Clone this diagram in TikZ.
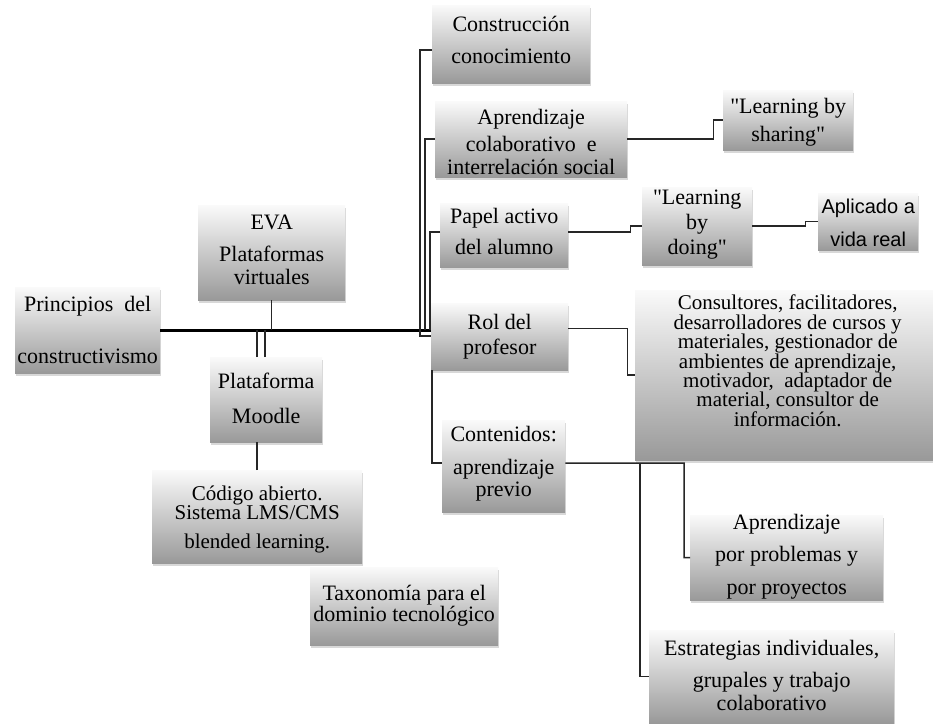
\documentclass[tikz,border=0pt]{standalone}
\usepackage{fontspec}
\setmainfont{Liberation Serif}
\newfontfamily\sansf{Liberation Sans}
\font\qfont="Liberation Serif" at 22pt
\newcommand\dq{{\qfont"}}
\usetikzlibrary{shadows}
\newcommand\fs[1]{\fontsize{22}{#1}\selectfont\lineskiplimit=-50pt\relax}
\newcommand\fss[2]{\fontsize{#1}{#2}\selectfont\lineskiplimit=-50pt\relax}
\begin{document}
\begin{tikzpicture}[x=1pt,y=-1pt,
  box/.style={anchor=north west, inner sep=0pt, align=center,
    top color=black!2, bottom color=black!40,
    drop shadow={shadow xshift=1pt, shadow yshift=-2.5pt, opacity=0.3}},
  bx/.style n args={4}{box, minimum width=#1, minimum height=#2, text height=#3, text depth=#4},
  ln/.style={line width=1.5pt, black!85},
  mainln/.style={line width=2.6pt, black}]
\fill[white] (0,0) rectangle (933,723);
\useasboundingbox (0,0) rectangle (933,723);

\node[bx={145pt}{86pt}{76pt}{10pt}, font=\fs{52}] (prin) at (15,287) {Principios\ \ del\\constructivismo};
\node[bx={147pt}{95pt}{79pt}{16pt}, font=\fs{23}] (eva) at (198,205) {EVA\\[9pt]Plataformas\\virtuales};
\node[bx={112pt}{85pt}{66pt}{19pt}, font=\fs{35}] (moodle) at (210,357) {Plataforma\\Moodle};
\node[bx={210pt}{93pt}{78pt}{15pt}, font=\fss{21}{19.5}] (codigo) at (152,470) {Código abierto.\\Sistema LMS/CMS\\[9pt]blended learning.};
\node[bx={188pt}{78pt}{54pt}{24pt}, font=\fss{22}{20.5}] (taxo) at (310,567) {Taxonomía para el\\dominio tecnológico};

\node[bx={158pt}{78pt}{58pt}{20pt}, font=\fs{32}] (cons) at (432,5) {Construcción\\conocimiento};
\node[bx={192pt}{76pt}{73pt}{3pt}, font=\fs{23}] (colab) at (435,101) {Aprendizaje\\[4pt]colaborativo\ \ e\\interrelación social};
\node[bx={130pt}{60pt}{51pt}{9pt}, font=\fs{28}] (share) at (723,90) {\dq Learning by\\sharing\dq};
\node[bx={128pt}{64pt}{51pt}{13pt}, font=\fs{31}] (papel) at (440,203) {Papel activo\\del alumno};
\node[bx={110pt}{78pt}{67pt}{11pt}, font=\fs{25}] (doing) at (642,187) {\dq Learning\\by\\doing\dq};
\node[bx={100pt}{57pt}{53pt}{4pt}, font=\sansf\fontsize{20}{33}\selectfont] (aplic) at (818,193) {Aplicado a\\vida real};
\node[bx={137pt}{67pt}{51pt}{16pt}, font=\fs{25}] (rol) at (431,303) {Rol del\\profesor};
\node[bx={305pt}{170pt}{136pt}{34pt}, font=\fss{21}{19.4}] (consu) at (635,290) {Consultores, facilitadores,\\desarrolladores de cursos y\\materiales, gestionador de\\ambientes de aprendizaje,\\motivador,\ \ adaptador de\\material, consultor de\\información.};
\node[bx={123pt}{92pt}{76pt}{16pt}, font=\fs{22}] (conte) at (442,420) {Contenidos:\\[11pt]aprendizaje\\previo};
\node[bx={193pt}{85pt}{79pt}{6pt}, font=\fs{32.5}] (probl) at (690,515) {Aprendizaje\\por problemas y\\por proyectos};
\node[bx={245pt}{93pt}{80pt}{13pt}, font=\fs{23}] (estra) at (649,630) {Estrategias individuales,\\[9pt]grupales y trabajo\\colaborativo};

\coordinate (t1) at (420,336);
\coordinate (t2) at (425,330);
\coordinate (t3) at (430,330);
\coordinate (k) at (684,463);
\coordinate (k2) at (640,463);

\draw[mainln] (prin.east) -- (prin.east -| rol.west);
\draw[ln] (eva.south) -- (eva.south |- prin.east);
\draw[ln] ([xshift=-9pt]moodle.north) -- ([xshift=-9pt]moodle.north |- prin.east);
\draw[ln] ([xshift=-1pt]moodle.north) -- ([xshift=-1pt]moodle.north |- prin.east);
\draw[ln] (codigo.north) -- (codigo.north |- moodle.south);
\draw[ln] ([yshift=-6pt]cons.west) -| (t1) -- (t1 -| rol.west);
\draw[ln] (colab.west) -| (t2);
\draw[ln] ([yshift=3pt]papel.west) -| (t3);
\draw[ln] ([xshift=1pt]rol.south west) |- ([yshift=3pt]conte.west);
\draw[ln] (colab.east) -- ++(86,0) |- (share.west);
\draw[ln] ([yshift=3pt]papel.east) -- ++(62,0) |- (doing.west);
\draw[ln] (doing.east) -- ++(53,0) |- (aplic.west);
\draw[ln] ([yshift=8pt]rol.east) -- ++(59,0) |- (consu.west);
\draw[ln] ([yshift=3pt]conte.east) -- (k) |- (probl.west);
\draw[ln] (k2) |- (estra.west);
\end{tikzpicture}
\end{document}
